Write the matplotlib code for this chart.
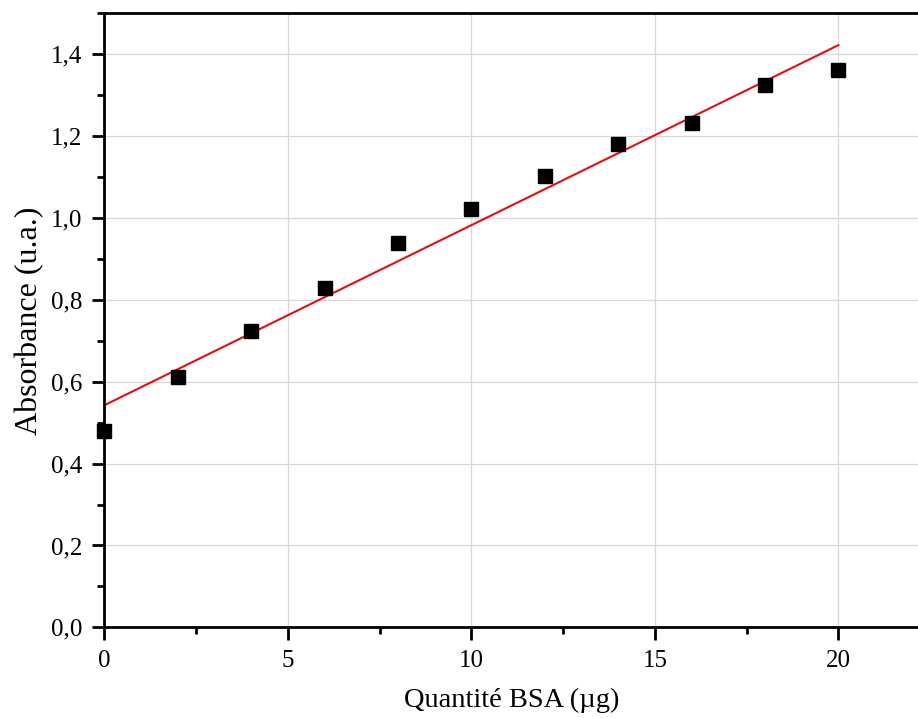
import numpy as np
import matplotlib.pyplot as plt
from matplotlib.ticker import MultipleLocator, FuncFormatter

plt.rcParams["font.family"] = ["Liberation Serif", "DejaVu Serif"]

bsa = [0, 2, 4, 6, 8, 10, 12, 14, 16, 18, 20]
absorb = [0.479, 0.611, 0.723, 0.828, 0.940, 1.023, 1.104, 1.180, 1.233, 1.326, 1.363]

# linear fit drawn in red
slope, inter = np.polyfit(bsa, absorb, 1)

fig = plt.figure(figsize=(9.18, 7.18), dpi=100)
ax = fig.add_axes([0.1138, 0.1263, 0.8862, 0.8549])

xf = np.array([0, 20])
ax.plot(xf, slope * xf + inter, c="#e01010", lw=1.5, zorder=2)
ax.plot(bsa, absorb, ls="none", marker="s", ms=10, c="black", zorder=3, clip_on=False)

ax.set_xlim(0, 22.17)
ax.set_ylim(0, 1.5)
ax.xaxis.set_major_locator(MultipleLocator(5))
ax.xaxis.set_minor_locator(MultipleLocator(2.5))
ax.yaxis.set_major_locator(MultipleLocator(0.2))
ax.yaxis.set_minor_locator(MultipleLocator(0.1))
ax.yaxis.set_major_formatter(FuncFormatter(lambda v, p: f"{v:.1f}".replace(".", ",")))

ax.grid(True, which="major", color="#d8d8d8", lw=0.9)
ax.set_axisbelow(True)
ax.spines["right"].set_visible(False)
for s in ["left", "bottom", "top"]:
    ax.spines[s].set_linewidth(2)
ax.tick_params(which="major", direction="out", length=9, width=2, labelsize=18, pad=7)
ax.tick_params(which="minor", direction="out", length=5, width=2)
ax.tick_params(axis="x", which="both", top=False)

ax.set_xlabel("Quantité BSA (µg)", fontsize=20.5, labelpad=12)
ax.set_ylabel("Absorbance (u.a.)", fontsize=23, labelpad=5)

fig.savefig("out.png", dpi=100)
